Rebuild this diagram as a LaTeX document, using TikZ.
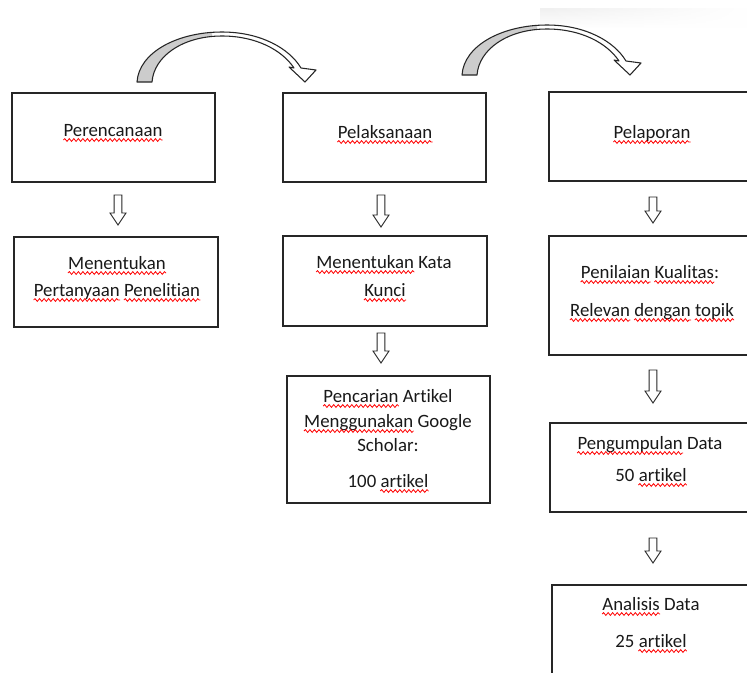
\documentclass[tikz,border=0pt]{standalone}
\usepackage{fontspec}
\setmainfont{Carlito}[Ligatures=NoCommon]
\usetikzlibrary{fit,fadings,decorations.pathmorphing}
\newcommand\wav[1]{\tikz[baseline=(w.base)]{\node[inner sep=0pt, anchor=base, draw=none, fill=none] (w) {#1};%
  \draw[overlay, red, line width=0.6pt, decorate, decoration={snake, amplitude=1.05pt, segment length=3.4pt}] ([yshift=-3pt]w.base west) -- ([yshift=-3pt]w.base east);}}
\tikzset{
  box/.style={draw=black!85, line width=0.9pt, inner sep=0pt},
  txt/.style={anchor=base, inner sep=0pt, font=\fontsize{14.1pt}{17pt}\selectfont, text=black!90},
  pics/bdown/.style={code={
    \draw[black!85, line width=0.7pt, fill=white, line join=miter]
      (-3.8,-#1/2) -- (3.8,-#1/2) -- (3.8,#1/2-12) -- (8,#1/2-12) -- (0,#1/2)
      -- (-8,#1/2-12) -- (-3.8,#1/2-12) -- cycle;
  }},
  curvarr/.pic={
    \fill[white] (137,82) .. controls (139,52) and (178,32) .. (222,32) .. controls (260,32) and (289,48) .. (301,68) -- (316,70) -- (305,82) -- (289,67) -- (294,68) .. controls (282,50) and (256,36) .. (222,36) .. controls (183,36) and (154,56) .. (152,82) -- cycle;
    \begin{scope}
      \clip (100,0) rectangle (212,100);
      \fill[black!20] (137,82) .. controls (139,52) and (178,32) .. (222,32) -- (222,36) .. controls (183,36) and (154,56) .. (152,82) -- cycle;
    \end{scope}
    \draw[black!85, line width=0.8pt, line join=round] (137,82) .. controls (139,52) and (178,32) .. (222,32) .. controls (260,32) and (289,48) .. (301,68) -- (316,70) -- (305,82) -- (289,67) -- (294,68) .. controls (282,50) and (256,36) .. (222,36) .. controls (183,36) and (154,56) .. (152,82) -- cycle;
  }
}
\begin{document}
\begin{tikzpicture}[x=0.75pt,y=-0.75pt]
\clip (0,0) rectangle (747,672);
\fill[white] (0,0) rectangle (747,672);
\shade[top color=black!6, bottom color=white, path fading=east] (540,8) rectangle (747,28);

% curved arrows
\pic (c1) at (0,0) {curvarr};
\pic (c2) at (325,-7) {curvarr};

% boxes
\node[box, fit={(12,93) (215,182)}] (b1) {};
\node[box, fit={(14,237) (218,327)}] (b2) {};
\node[box, fit={(283,93) (486,182)}] (b3) {};
\node[box, fit={(283,236) (487,326)}] (b4) {};
\node[box, fit={(287,376) (490,503)}] (b5) {};
\node[box, fit={(549,92) (758,181)}] (b6) {};
\node[box, fit={(549,236) (758,355)}] (b7) {};
\node[box, fit={(550,423) (758,512)}] (b8) {};
\node[box, fit={(552,585) (758,690)}] (b9) {};

% down block arrows
\pic (a1) at (118,210) {bdown=30};
\pic (a2) at (381,211) {bdown=32};
\pic (a3) at (381,348) {bdown=30};
\pic (a4) at (653,210) {bdown=26};
\pic (a5) at (653,386.5) {bdown=33};
\pic (a6) at (653,550.5) {bdown=25};

% texts
\node[txt] (t1) at (113,136) {\wav{Perencanaan}};
\node[txt] (t2a) at (117,269) {\wav{Menentukan}};
\node[txt] (t2b) at (117,296) {\wav{Pertanyaan} \wav{Penelitian}};
\node[txt] (t3) at (385,138) {\wav{Pelaksanaan}};
\node[txt] (t4a) at (384,268) {\wav{Menentukan} Kata};
\node[txt] (t4b) at (385,296) {\wav{Kunci}};
\node[txt] (t5a) at (388,402) {\wav{Pencarian} Artikel};
\node[txt] (t5b) at (388,427) {\wav{Menggunakan} Google};
\node[txt] (t5c) at (388,451) {Scholar:};
\node[txt] (t5d) at (388,487) {100 \wav{artikel}};
\node[txt] (t6) at (652,138) {\wav{Pelaporan}};
\node[txt] (t7a) at (650,278) {\wav{Penilaian} \wav{Kualitas}:};
\node[txt] (t7b) at (652,316) {\wav{Relevan} \wav{dengan} \wav{topik}};
\node[txt] (t8a) at (650,449) {\wav{Pengumpulan} Data};
\node[txt] (t8b) at (651,481) {50 \wav{artikel}};
\node[txt] (t9a) at (651,610) {\wav{Analisis} Data};
\node[txt] (t9b) at (651,647) {25 \wav{artikel}};
\end{tikzpicture}
\end{document}
